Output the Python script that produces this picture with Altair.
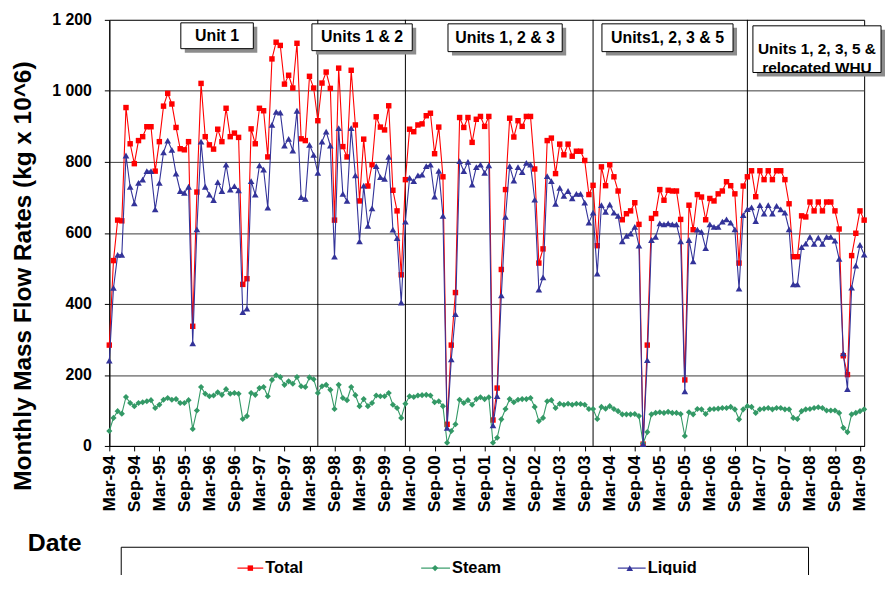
import altair as alt
import pandas as pd

# ---------------- data (monthly, Mar-94 .. Apr-09) ----------------
total = [284, 522, 636, 634, 953, 851, 795, 860, 871, 899, 899, 774, 857, 957, 993, 963, 897, 837, 834, 857,
         337, 715, 1021, 871, 848, 836, 892, 857, 951, 871, 881, 869, 455, 471, 893, 851, 951, 944, 814, 1090,
         1137, 1128, 1019, 1044, 1008, 1134, 865, 860, 1041, 1008, 916, 1022, 1053, 1007, 636, 1064, 843, 814, 1058, 904,
         690, 864, 732, 792, 927, 898, 890, 958, 720, 662, 482, 750, 892, 885, 904, 907, 930, 937, 823, 898,
         758, 61, 284, 432, 925, 897, 925, 855, 920, 928, 900, 928, 73, 163, 497, 722, 923, 870, 916, 900,
         928, 928, 780, 515, 555, 860, 867, 767, 850, 820, 850, 816, 830, 830, 804, 708, 734, 564, 786, 733,
         792, 758, 718, 637, 654, 662, 685, 624, 5, 284, 641, 654, 722, 692, 720, 718, 718, 638, 186, 678,
         609, 708, 701, 637, 697, 690, 710, 718, 744, 733, 710, 515, 732, 758, 775, 702, 775, 750, 775, 750,
         775, 775, 750, 682, 533, 533, 648, 645, 687, 662, 687, 662, 687, 687, 662, 611, 254, 201, 536, 599,
         662, 636]

steam = [42, 79, 98, 91, 138, 121, 112, 121, 123, 126, 129, 107, 116, 130, 135, 130, 132, 121, 121, 129,
         48, 100, 166, 147, 140, 142, 151, 144, 160, 147, 149, 147, 76, 84, 149, 144, 163, 166, 140, 186,
         199, 194, 172, 182, 175, 194, 168, 166, 193, 188, 149, 168, 172, 158, 104, 172, 135, 129, 166, 143,
         112, 132, 112, 121, 142, 140, 140, 149, 116, 107, 79, 119, 140, 138, 142, 143, 144, 142, 123, 126,
         112, 9, 42, 61, 130, 121, 129, 116, 132, 137, 132, 137, 9, 23, 75, 104, 132, 123, 130, 132,
         132, 135, 110, 70, 79, 126, 129, 107, 119, 116, 119, 116, 119, 118, 116, 104, 104, 76, 110, 105,
         112, 104, 98, 89, 89, 89, 90, 84, 7, 39, 89, 93, 95, 93, 96, 93, 93, 90, 28, 95,
         89, 104, 103, 90, 103, 104, 105, 107, 107, 110, 103, 75, 103, 112, 110, 93, 103, 105, 107, 103,
         107, 107, 103, 103, 79, 76, 98, 103, 104, 107, 109, 107, 100, 100, 100, 93, 51, 39, 89, 93,
         98, 103]

liquid = [240, 445, 538, 538, 818, 730, 683, 741, 750, 774, 774, 666, 741, 827, 860, 834, 767, 718, 713, 730,
          289, 610, 857, 730, 708, 692, 743, 718, 792, 722, 732, 720, 377, 387, 746, 708, 790, 778, 671, 904,
          941, 939, 846, 865, 832, 944, 701, 696, 848, 820, 769, 857, 885, 846, 533, 895, 710, 690, 895, 762,
          576, 733, 620, 669, 788, 757, 752, 814, 609, 585, 404, 632, 755, 746, 762, 764, 788, 792, 702, 775,
          648, 51, 244, 371, 802, 774, 800, 736, 785, 792, 769, 790, 58, 140, 424, 645, 788, 747, 785, 771,
          797, 792, 694, 440, 475, 760, 746, 682, 727, 704, 718, 697, 710, 710, 685, 629, 657, 485, 678, 659,
          680, 657, 648, 576, 592, 598, 617, 564, 5, 242, 580, 589, 627, 624, 627, 624, 624, 576, 154, 580,
          520, 609, 603, 557, 624, 617, 617, 632, 638, 629, 610, 443, 650, 667, 672, 633, 678, 654, 678, 654,
          676, 666, 657, 610, 455, 455, 560, 570, 589, 569, 587, 569, 589, 589, 578, 527, 261, 160, 446, 508,
          566, 539]

tick_labels = ["Mar-94", "Sep-94", "Mar-95", "Sep-95", "Mar-96", "Sep-96", "Mar-97", "Sep-97",
               "Mar-98", "Sep-98", "Mar-99", "Sep-99", "Mar-00", "Sep-00", "Mar-01", "Sep-01",
               "Mar-02", "Sep-02", "Mar-03", "Sep-03", "Mar-04", "Sep-04", "Mar-05", "Sep-05",
               "Mar-06", "Sep-06", "Mar-07", "Sep-07", "Mar-08", "Sep-08", "Mar-09"]
tick_months = [6 * i for i in range(len(tick_labels))]
y_ticks = [0, 200, 400, 600, 800, 1000, 1200]
unit_change_months = [50, 71, 116, 153]   # May-98, Feb-00, Nov-03, Dec-06

months = list(range(len(total)))
df = pd.DataFrame({"m": months, "Total": total, "Steam": steam, "Liquid": liquid})
df_units = pd.DataFrame({"m": unit_change_months})

FONT = "Liberation Sans"
W, H = 760, 429

label_expr = "[" + ",".join("'%s'" % t for t in tick_labels) + "][round(datum.value/6)]"

x_axis = alt.Axis(values=tick_months, labelExpr=label_expr, labelAngle=270, labelAlign="right",
                  labelBaseline="middle", labelFont=FONT, labelFontWeight="bold", labelFontSize=17.5,
                  labelColor="black", tickColor="black", tickSize=5, labelPadding=4,
                  domainColor="black", grid=False, title=None, labelOverlap=False, labelFlush=False)
y_axis = alt.Axis(values=y_ticks, labelExpr="replace(format(datum.value, ','), ',', ' ')",
                  labelFont=FONT, labelFontWeight="bold", labelFontSize=16, labelColor="black",
                  tickColor="black", tickSize=5, labelPadding=13, domainColor="black",
                  grid=True, gridColor="#3a3a3a", gridWidth=1, title=None)

x_scale = alt.Scale(domain=[0, len(total) - 1], nice=False, zero=False)
y_scale = alt.Scale(domain=[0, 1200], nice=False)

X = alt.X("m:Q", scale=x_scale, axis=x_axis)


def series(col, color, shape, size):
    y = alt.Y(f"{col}:Q", scale=y_scale, axis=y_axis)
    base = alt.Chart(df)
    line = base.mark_line(color=color, strokeWidth=1.1).encode(x=X, y=y)
    pts = base.mark_point(shape=shape, filled=True, size=size, color=color, opacity=1).encode(x=X, y=y)
    return [line, pts]


unit_lines = alt.Chart(df_units).mark_rule(color="black", strokeWidth=1).encode(x=X)

one = alt.Data(values=[{"k": 0}])


def box(x1, y1, x2, y2):
    shadow = alt.Chart(one).mark_rect(fill="#8c8c8c").encode(
        x=alt.value(x1 + 4), x2=alt.value(x2 + 4), y=alt.value(y1 + 4), y2=alt.value(y2 + 4))
    rect = alt.Chart(one).mark_rect(fill="white", stroke="black", strokeWidth=1).encode(
        x=alt.value(x1), x2=alt.value(x2), y=alt.value(y1), y2=alt.value(y2))
    return [shadow, rect]


def text(t, x, y, size=16, angle=0, align="center", baseline="middle", line_height=19):
    return alt.Chart(one).mark_text(text=t, font=FONT, fontWeight="bold", fontSize=size, color="black",
                                    align=align, baseline=baseline, angle=angle,
                                    lineHeight=line_height).encode(x=alt.value(x), y=alt.value(y))


annot = []
annot += box(72, 3, 145, 29) + [text("Unit 1", 108.5, 16.5)]
annot += box(204, 4, 305, 31) + [text("Units 1 & 2", 254.5, 17.5)]
annot += box(341, 4, 456, 32) + [text("Units 1, 2 & 3", 398.5, 18)]
annot += box(496, 4, 628, 32) + [text("Units1, 2, 3 & 5", 562, 18)]
annot += box(648, 6, 777, 53) + [text(["Units 1, 2, 3, 5 &", "relocated WHU"], 712.5, 29.5, size=15.5)]

# axis titles
annot.append(text("Monthly Mass Flow Rates (kg x 10^6)", -79, 258, size=24.5, angle=270,
                   baseline="alphabetic"))
annot.append(text("Date", -82, 527, size=25, align="left"))

# legend
leg = []
leg.append(alt.Chart(one).mark_rect(fill="white", stroke="black", strokeWidth=1).encode(
    x=alt.value(12), x2=alt.value(704), y=alt.value(531), y2=alt.value(600)))
ly = 552
for (name, color, shape, size, lx1, lx2, sx, tx) in [
        ("Total", "#ff0000", "square", 30, 129, 155, 142, 157),
        ("Steam", "#339966", "diamond", 40, 314, 343, 328, 345),
        ("Liquid", "#333399", "triangle-up", 45, 512, 540, 524, 542)]:
    leg.append(alt.Chart(one).mark_rule(color=color, strokeWidth=1.2).encode(
        x=alt.value(lx1), x2=alt.value(lx2), y=alt.value(ly)))
    leg.append(alt.Chart(one).mark_point(shape=shape, filled=True, size=size, color=color, opacity=1).encode(
        x=alt.value(sx), y=alt.value(ly)))
    leg.append(text(name, tx, ly, size=16.5, align="left"))

layers = ([unit_lines]
          + series("Total", "#ff0000", "square", 30)
          + series("Steam", "#339966", "diamond", 38)
          + series("Liquid", "#333399", "triangle-up", 45)
          + annot + leg)

chart = alt.layer(*layers).properties(
    width=W, height=H,
    autosize=alt.AutoSizeParams(type="none"),
    padding={"left": 102, "top": 10, "right": 22, "bottom": 128},
    background="white",
).configure_view(stroke="black", strokeWidth=1)

chart.save("out.html", embed_options={"renderer": "svg", "actions": False})
